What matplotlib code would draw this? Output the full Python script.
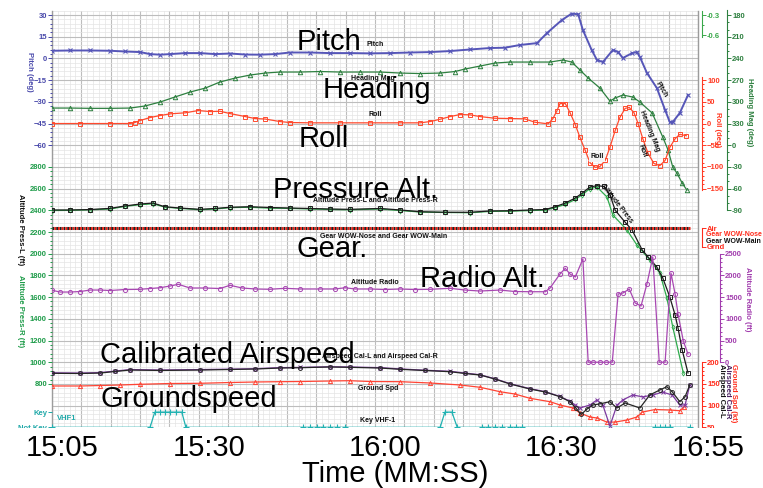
import matplotlib
matplotlib.use("Agg")
import matplotlib.pyplot as plt
from matplotlib.ticker import MultipleLocator
from matplotlib.patches import Rectangle

plt.rcParams['font.family'] = ['Liberation Sans', 'DejaVu Sans']
plt.rcParams['font.weight'] = 'bold'

# ---------------- data (time in seconds, shown as MM:SS) ----------------
time_ticks = [905, 930, 960, 990, 1015]
time_labels = ["15:05", "15:30", "16:00", "16:30", "16:55"]

pitch_t = [903.3, 906.4, 909.8, 913.2, 915.7, 918.3, 920.0, 921.7, 923.4, 926.0,
           928.5, 931.1, 933.6, 936.2, 938.7, 941.3, 943.8, 947.2, 950.6, 954.0,
           957.5, 960.9, 964.3, 967.7, 971.1, 974.5, 977.9, 980.4, 983.0, 985.9,
           987.6, 990.1, 991.8, 992.9, 993.7, 995.2, 996.1, 997.1, 998.8, 999.7,
           1000.5, 1002.1, 1002.9, 1003.4, 1004.6, 1006.3, 1007.7, 1008.5, 1009.0,
           1010.2, 1011.6]
pitch = [5.3, 5.5, 5.5, 5.3, 4.8, 4.4, 3.0, 2.6, 3.0, 3.7,
         3.7, 3.0, 3.4, 2.7, 2.6, 3.0, 4.1, 4.1, 3.7, 3.7,
         3.5, 3.7, 4.1, 4.4, 5.1, 6.2, 7.2, 7.4, 9.3, 10.6,
         17.6, 26.5, 31.0, 30.5, 19.6, 5.8, -1.1, -2.5, 5.8, 4.4,
         0.3, 3.7, 4.4, 1.0, -10.0, -20.5, -35.7, -44.0, -44.0,
         -37.7, -25.3]

heading_t = [903.3, 906.4, 909.8, 913.2, 916.6, 919.1, 921.7, 924.2, 926.8, 929.4,
             931.9, 934.5, 937.0, 939.6, 942.1, 945.5, 948.9, 952.3, 955.7, 959.2,
             962.6, 966.0, 969.4, 971.9, 973.6, 976.2, 978.7, 981.3, 984.7, 988.1,
             990.3, 991.8, 993.2, 994.6, 996.6, 998.3, 999.2, 1000.5, 1002.2, 1003.4,
             1005.5, 1007.3, 1008.2, 1009.0, 1009.7, 1010.6, 1011.4]
heading = [308.6, 308.6, 309.0, 309.0, 308.6, 305.8, 300.3, 293.4, 286.5, 281.0,
           272.6, 267.1, 263.0, 260.2, 258.8, 258.8, 258.1, 258.8, 258.8, 258.8,
           260.2, 260.9, 260.2, 258.1, 254.7, 250.5, 246.4, 245.0, 245.0, 245.0,
           242.2, 245.0, 256.0, 267.1, 281.0, 298.9, 294.7, 290.6, 293.4, 300.3,
           315.5, 348.7, 366.6, 390.1, 398.4, 412.2, 422.0]
heading_ticks = [180, 210, 240, 270, 300, 330, 360, 390, 420, 450]
heading_labels = ["180", "210", "240", "270", "300", "330", "0", "-30", "-60", "-90"]

roll_t = [903.3, 908.1, 913.2, 916.6, 917.4, 918.3, 920.0, 921.7, 923.4, 926.0,
          928.2, 930.2, 931.9, 933.6, 936.2, 937.9, 939.6, 942.1, 943.8, 947.2,
          952.3, 957.5, 962.6, 966.0, 967.7, 969.4, 971.1, 972.8, 974.5, 976.2,
          978.7, 981.3, 983.8, 985.5, 987.8, 988.6, 989.3, 989.8, 990.7, 991.5,
          992.4, 993.2, 994.1, 994.9, 995.8, 996.6, 997.5, 998.3, 999.2, 1000.0,
          1000.9, 1001.6, 1002.4, 1003.1, 1003.9, 1004.8, 1005.8, 1006.8, 1007.7,
          1008.5, 1009.4, 1010.2, 1011.3]
roll = [0, 0, 0, 0, 2.3, 6.9, 13.8, 18.4, 22.3, 24.7,
        30.0, 27.6, 28.3, 23.0, 16.1, 11.5, 10.4, 4.6, 2.3, 1.6,
        1.6, 1.6, 1.6, 1.6, 4.6, 9.9, 16.1, 20.7, 20.0, 16.0,
        12.2, 11.5, 10.8, 3.1, -0.8, 11.5, 30.0, 46.0, 46.0, 25.3,
        -2.3, -32.0, -62.0, -90.0, -101.0, -99.0, -85.0, -55.0, -16.0, 14.0,
        35.0, 37.0, 25.0, 0.0, -35.0, -69.0, -92.0, -97.0, -85.0,
        -55.0, -35.0, -25.0, -28.0]

alt_l_t = [903.3, 906.4, 909.8, 913.2, 915.7, 918.3, 920.5, 922.5, 925.1, 928.5,
           931.1, 933.6, 937.0, 940.4, 943.8, 947.2, 950.6, 954.0, 959.2, 962.6,
           966.0, 970.2, 974.5, 977.9, 981.3, 984.7, 987.3, 989.0, 990.7, 992.4,
           993.6, 994.9, 996.1, 997.3, 998.3, 999.2, 1000.9, 1002.1, 1003.8, 1004.8,
           1006.3, 1007.3, 1008.5, 1009.4, 1009.9, 1010.6, 1011.6]
alt_l = [2403, 2403, 2407, 2418, 2440, 2458, 2467, 2433, 2421, 2409,
         2417, 2428, 2433, 2426, 2421, 2417, 2412, 2409, 2417, 2403,
         2387, 2382, 2382, 2394, 2396, 2403, 2407, 2433, 2467, 2513,
         2559, 2615, 2627, 2620, 2545, 2400, 2290, 2216, 2034, 1970,
         1877, 1776, 1601, 1435, 1315, 1113, 901]

alt_r_t = [903.3, 906.4, 909.8, 913.2, 915.7, 918.3, 920.5, 922.5, 925.1, 928.5,
           931.1, 933.6, 937.0, 940.4, 943.8, 947.2, 950.6, 954.0, 959.2, 962.6,
           966.0, 970.2, 974.5, 977.9, 981.3, 984.7, 987.3, 989.0, 990.7, 992.4,
           993.6, 994.9, 996.1, 997.8, 998.8, 1001.2, 1002.9, 1005.1, 1006.8,
           1008.0, 1009.0, 1010.8]
alt_r = [2398, 2400, 2405, 2412, 2436, 2452, 2460, 2430, 2418, 2405,
         2412, 2425, 2428, 2420, 2418, 2412, 2408, 2405, 2412, 2398,
         2384, 2380, 2378, 2390, 2392, 2398, 2402, 2425, 2455, 2500,
         2545, 2600, 2615, 2523, 2357, 2219, 2080, 1942, 1822,
         1592, 1325, 901]

gear_t = [903.3, 1011.9]
gear_nose = [1, 1]   # 1 = Air, 0 = Grnd
gear_main = [1, 1]

radio_t = [903.3, 904.7, 906.4, 908.1, 909.8, 911.5, 913.2, 915.7, 918.3, 920.0,
           921.7, 923.4, 924.8, 926.8, 929.4, 931.9, 933.6, 935.7, 937.9, 940.4,
           943.0, 945.5, 948.9, 951.5, 953.2, 954.9, 957.5, 960.0, 962.6, 965.1,
           967.7, 971.1, 973.6, 976.2, 979.6, 982.1, 984.7, 987.3, 988.1, 989.8,
           990.7, 991.5, 992.4, 993.7, 994.6, 995.4, 996.6, 997.6, 998.7, 999.7,
           1000.5, 1001.6, 1002.6, 1003.6, 1004.6, 1005.6, 1006.7, 1007.7, 1008.7,
           1009.4, 1009.9, 1010.8, 1011.6]
radio = [1657, 1617, 1617, 1629, 1663, 1663, 1652, 1675, 1680, 1698,
         1716, 1756, 1795, 1710, 1710, 1698, 1772, 1710, 1687, 1680,
         1703, 1687, 1687, 1687, 1716, 1687, 1687, 1675, 1687, 1675,
         1680, 1703, 1663, 1640, 1663, 1629, 1624, 1624, 1710, 2032,
         2163, 2032, 1963, 2378, 0, 0, 0, 0, 0, 1571,
         1594, 1686, 1364, 1295, 1802, 2424, 0, 0, 2055,
         1571, 1110, 488, 189]

asp_l_t = [903.3, 908.1, 911.5, 914.0, 916.6, 921.7, 928.5, 933.6, 937.9, 942.1,
           945.5, 950.6, 954.0, 959.2, 962.6, 966.8, 971.1, 973.6, 976.2, 978.7,
           981.3, 984.7, 987.3, 989.8, 991.5, 992.5, 993.4, 994.4, 995.4, 996.6,
           998.3, 999.5, 1000.9, 1003.4, 1005.1, 1006.8, 1008.0, 1008.9, 1010.2,
           1011.1, 1011.9]
asp_l = [174.4, 174.0, 175.0, 178.6, 182.0, 181.0, 182.0, 183.2, 184.3, 186.6,
         187.3, 189.0, 188.2, 186.6, 183.6, 180.9, 178.1, 174.0, 170.5, 161.3,
         149.8, 138.2, 131.3, 120.5, 109.0, 94.5, 79.5, 92.0, 101.4, 104.0,
         109.0, 94.5, 106.0, 94.5, 124.6, 136.0, 143.5, 132.0, 109.0,
         120.5, 147.5]

asp_r_t = [903.3, 908.1, 911.5, 914.0, 916.6, 921.7, 928.5, 933.6, 937.9, 942.1,
           945.5, 950.6, 954.0, 959.2, 962.6, 966.8, 971.1, 973.6, 976.2, 978.7,
           981.3, 984.7, 987.3, 989.8, 991.5, 992.4, 993.2, 994.9, 996.1, 997.1,
           998.3, 999.5, 1000.5, 1002.2, 1003.9, 1005.6, 1007.3, 1008.9, 1010.2,
           1011.1, 1011.9]
asp_r = [175.5, 175.0, 176.0, 179.5, 183.0, 182.0, 183.0, 184.0, 185.0, 187.5,
         188.0, 189.5, 189.0, 187.5, 184.5, 181.5, 179.0, 175.0, 171.0, 162.0,
         150.5, 139.0, 132.0, 121.0, 110.0, 101.0, 94.5, 101.4, 113.0, 101.0,
         53.0, 101.0, 113.0, 124.5, 120.0, 124.5, 131.0, 124.5, 101.4,
         101.4, 147.5]

gspd_t = [903.3, 908.1, 911.5, 914.9, 918.3, 923.4, 928.5, 933.6, 937.9, 942.1,
          945.5, 950.6, 954.0, 957.5, 962.6, 967.7, 972.8, 976.2, 979.6, 982.1,
          984.7, 988.1, 989.8, 992.0, 993.2, 994.9, 996.1, 997.8, 999.2, 1001.2,
          1002.9, 1003.8, 1006.0, 1008.5, 1010.2, 1010.9]
gspd = [145.2, 145.2, 146.3, 147.5, 149.1, 150.9, 151.4, 153.2, 154.4, 155.1,
        155.5, 156.7, 157.4, 155.5, 155.1, 152.1, 147.5, 142.2, 132.0, 126.7,
        116.8, 109.0, 101.4, 94.5, 83.0, 73.7, 71.4, 62.0, 62.0, 66.8,
        73.7, 85.0, 91.0, 89.9, 88.2, 96.8]

key_t = [903.3, 920.0, 920.8, 921.7, 922.5, 923.4, 924.4, 925.4, 926.1, 946.0,
         947.2, 948.4, 949.5, 950.6, 951.8, 953.2, 969.4, 970.2, 971.4, 972.3,
         976.5, 977.5, 978.7, 979.9, 981.3, 982.3, 983.3, 1006.0, 1006.8, 1007.7,
         1008.5, 1011.9]
key_vhf1 = [0, 0, 1, 1, 1, 1, 1, 1, 0, 0,
            0, 0, 0, 0, 0, 0, 0, 1, 1, 0,
            0, 0, 0, 0, 0, 0, 0, 0, 0, 0,
            0, 0]

# ---------------- layout ----------------
W, H = 763, 488
fig = plt.figure(figsize=(W / 100, H / 100), dpi=100)
fig.patch.set_facecolor('white')

FL, FR, FT, FB = 52, 698, 10.7, 427.3          # plot frame, pixels
RECT = [FL / W, 1 - FB / H, (FR - FL) / W, (FB - FT) / H]
NU = 19.2                                      # grid rows over the frame
T0, T1 = 903.3, 1013.3
PX_PER_S = (FR - FL) / (T1 - T0)

gax = fig.add_axes(RECT, zorder=0)
gax.set_xlim(T0, T1)
gax.set_ylim(0, NU)
gax.xaxis.set_major_locator(MultipleLocator(5, offset=3.3))
gax.xaxis.set_minor_locator(MultipleLocator(1, offset=0.3))
gax.yaxis.set_major_locator(MultipleLocator(1))
gax.yaxis.set_minor_locator(MultipleLocator(0.2))
gax.grid(which='major', color='#bdbdbd', lw=0.8)
gax.grid(which='minor', color='#e4e4e4', lw=0.5)
gax.tick_params(which='both', length=0, labelbottom=False, labelleft=False)
for s in ('top', 'bottom'):
    gax.spines[s].set_visible(False)
for s in ('left', 'right'):
    gax.spines[s].set_color('#9c9c9c')
    gax.spines[s].set_linewidth(1.0)


def overlay(lo, per_row, side, color, outward=0.0, bounds=None):
    ax = fig.add_axes(RECT, sharex=gax, zorder=1)
    ax.set_ylim(lo, lo + NU * per_row)
    ax.patch.set_visible(False)
    for sp in ax.spines.values():
        sp.set_visible(False)
    ax.xaxis.set_visible(False)
    ax.yaxis.set_ticks_position(side)
    sp = ax.spines[side]
    sp.set_position(('outward', outward))
    if bounds is not None:
        sp.set_visible(True)
        sp.set_color(color)
        sp.set_linewidth(0.8)
        sp.set_bounds(*bounds)
    ax.tick_params(axis='y', which='both', colors=color, labelsize=5.5,
                   width=0.7, direction='out')
    ax.tick_params(axis='y', which='major', length=2.6, pad=1.0)
    ax.tick_params(axis='y', which='minor', length=1.5)
    return ax


def frange(a, b, step):
    out, v = [], a
    while v <= b + 1e-9:
        out.append(round(v, 6))
        v += step
    return out


C_PITCH, C_HEAD, C_ROLL = '#4848aa', '#2e8040', '#ff3a24'
C_ALT, C_KEY, C_RADIO = '#1f9c4a', '#1fa8a8', '#a23eae'
C_RED = '#ff2c1c'

# Pitch
ax_p = overlay(30 - 19 * 15, 15, 'left', C_PITCH)
ax_p.set_yticks([30, 15, 0, -15, -30, -45, -60])
ax_p.set_yticks(frange(-60, 30, 3), minor=True)
ax_p.plot(pitch_t, pitch, color='#5656b8', lw=1.4, marker='x', ms=2.8, mew=0.8)

# Heading (inverted scale)
ax_h = overlay(180 + 19 * 30, -30, 'right', C_HEAD, outward=21, bounds=(173, 450))
ax_h.set_yticks(heading_ticks, heading_labels)
ax_h.set_yticks(frange(180, 450, 10), minor=True)
ax_h.plot(heading_t, heading, color=C_HEAD, lw=0.9, marker='^', ms=3.2,
          mfc='none', mew=0.7)

# Vertical acceleration scale at the top right
ax_g = overlay(-0.3 - 19 * 0.326, 0.326, 'right', '#3aa84a', outward=3,
               bounds=(-0.633, -0.235))
ax_g.set_yticks([-0.3, -0.6], ["-0.3", "-0.6"])
ax_g.set_yticks([-0.45], minor=True)

# Roll
ax_r = overlay(-700, 50, 'right', C_ROLL, outward=3, bounds=(-153, 107))
ax_r.set_yticks([100, 50, 0, -50, -100, -150])
ax_r.set_yticks(frange(-150, 100, 10), minor=True)
ax_r.plot(roll_t, roll, color='#ff4a2e', lw=0.9, marker='s', ms=3.0,
          mfc='none', mew=0.7)

# Pressure altitude
ax_a = overlay(400, 200, 'left', C_ALT)
ax_a.set_yticks(frange(800, 2800, 200), [str(v) for v in range(800, 2801, 200)])
ax_a.set_yticks(frange(800, 2800, 40), minor=True)
ax_a.plot(alt_r_t, alt_r, color='#2eaa4c', lw=0.9, marker='d', ms=2.6,
          mfc='none', mew=0.6)
ax_a.plot(alt_l_t, alt_l, color='#1c1c1c', lw=0.9, marker='s', ms=3.0,
          mfc='none', mew=0.7)

# Gear weight-on-wheels
ax_w = overlay(-8.32 / 0.85, 1 / 0.85, 'right', C_RED, outward=3, bounds=(-0.02, 1.02))
ax_w.set_yticks([1, 0], ["Air", "Grnd"])
ax_w.plot(gear_t, gear_main, color='#222222', lw=2.2, ls=(0, (0.6, 0.6)))
ax_w.plot(gear_t, gear_nose, color='#e82418', lw=2.2, ls=(0.6, (0.6, 0.6)))

# Radio altitude
ax_ra = overlay(-1500, 500, 'right', C_RADIO, outward=16, bounds=(0, 2500))
ax_ra.set_yticks([2500, 2000, 1500, 1000, 500, 0])
ax_ra.set_yticks(frange(0, 2500, 100), minor=True)
ax_ra.plot(radio_t, radio, color='#a848b2', lw=0.9, marker='o', ms=3.0,
           mfc='none', mew=0.7)

# Speeds
ax_s = overlay(50, 50, 'right', C_RED, outward=3, bounds=(50, 200))
ax_s.set_yticks([200, 150, 100, 50])
ax_s.set_yticks(frange(50, 200, 10), minor=True)
ax_s.plot(gspd_t, gspd, color='#ff4434', lw=0.9, marker='^', ms=3.0,
          mfc='none', mew=0.7)
ax_s.plot(asp_r_t, asp_r, color='#7d3aa0', lw=0.9, marker='x', ms=2.6, mew=0.7)
ax_s.plot(asp_l_t, asp_l, color='#262626', lw=0.9, marker='o', ms=2.8,
          mfc='none', mew=0.7)

# VHF-1 keying
ax_k = overlay(0, 1 / 0.7, 'left', C_KEY)
ax_k.set_yticks([1, 0], ["Key", "Not Key"])
ax_k.plot(key_t, key_vhf1, color='#22b2b2', lw=0.9, marker='+', ms=4, mew=0.8)


# ---------------- text ----------------
def ftext(x, y, s, **kw):
    return fig.text(x / W, 1 - y / H, s, **kw)


small = dict(fontsize=5, fontweight='bold', color='#111111', ha='center', va='center')
ftext(375, 44, "Pitch", **small)
ftext(373, 79, "Heading Mag", **small)
ftext(375, 115, "Roll", **small)
ftext(375, 200, "Altitude Press-L and Altitude Press-R", **small)
ftext(384, 236, "Gear WOW-Nose and Gear WOW-Main", **small)
ftext(375, 282, "Altitude Radio", **small)
ftext(380, 357, "Airspeed Cal-L and Airspeed Cal-R", **small)
ftext(378, 388, "Ground Spd", **small)
ftext(378, 420, "Key VHF-1", **small)
ftext(661, 90, "Pitch", rotation=-59, **small)
ftext(649, 131, "Heading Mag", rotation=-68, **small)
ftext(642, 151, "Roll", rotation=-70, **small)
ftext(617, 204, "Altitude Press", rotation=-52, **small)
ftext(597, 157, "Roll", bbox=dict(boxstyle='square,pad=0.15', fc='#f4f4f4',
                                  ec='none'), **small)
ftext(57, 418, "VHF1", fontsize=5.5, fontweight='bold', color=C_KEY,
      ha='left', va='center')

side = dict(fontsize=5.5, fontweight='bold', rotation=-90, ha='center', va='center')
ftext(29, 72, "Pitch (deg)", color=C_PITCH, **side)
ftext(20, 230, "Altitude Press-L (ft)", color='#111111', **side)
ftext(20, 311, "Altitude Press-R (ft)", color=C_ALT, **side)
ftext(718, 130, "Roll (deg)", color=C_ROLL, **side)
ftext(750, 112, "Heading Mag (deg)", color=C_HEAD, **side)
ftext(747, 299, "Altitude Radio (ft)", color=C_RADIO, **side)
side_top = dict(fontsize=5.5, fontweight='bold', rotation=-90, ha='center', va='top')
ftext(734, 364, "Ground Spd (kt)", color=C_RED, **side_top)
ftext(728, 364, "Airspeed Cal-R", color='#4a2060', **side_top)
ftext(722, 364, "Airspeed Cal-L", color='#111111', **side_top)
ftext(706, 235, "Gear WOW-Nose", fontsize=5.0, fontweight='bold', color=C_RED,
      ha='left', va='center')
ftext(706, 241, "Gear WOW-Main", fontsize=5.0, fontweight='bold', color='#111111',
      ha='left', va='center')

big = dict(fontsize=21, fontweight='normal', color='black', ha='left', va='baseline')
ftext(297, 50, "Pitch", **big)
ftext(323, 98, "Heading", **big)
ftext(299, 147, "Roll", **big)
ftext(273, 198, "Pressure Alt.", **big)
ftext(296, 257, "Gear.", **big)
ftext(420, 287, "Radio Alt.", **big)
ftext(100, 363, "Calibrated Airspeed", **big)
ftext(100, 407, "Groundspeed", **big)

# white band under the frame, then the time axis on top of it
fig.add_artist(Rectangle((0, 0), 1, (H - 428) / H, transform=fig.transFigure,
                         facecolor='white', edgecolor='none', zorder=5))
tax = fig.add_axes([0, 1 - 428 / H, 1, 0.001], zorder=6)
tax.set_xlim(T0 - FL / PX_PER_S, T0 + (W - FL) / PX_PER_S)
tax.patch.set_visible(False)
for sp in tax.spines.values():
    sp.set_visible(False)
tax.set_yticks([])
tax.set_xticks(time_ticks, time_labels, fontsize=21, fontweight='normal')
tax.tick_params(axis='x', length=0, pad=4.3)
tax.set_xlabel("Time (MM:SS)", fontsize=21, fontweight='normal')
tax.xaxis.set_label_coords(395 / W, 1 - 459.5 / H, transform=fig.transFigure)

fig.savefig("out.png", dpi=100)
